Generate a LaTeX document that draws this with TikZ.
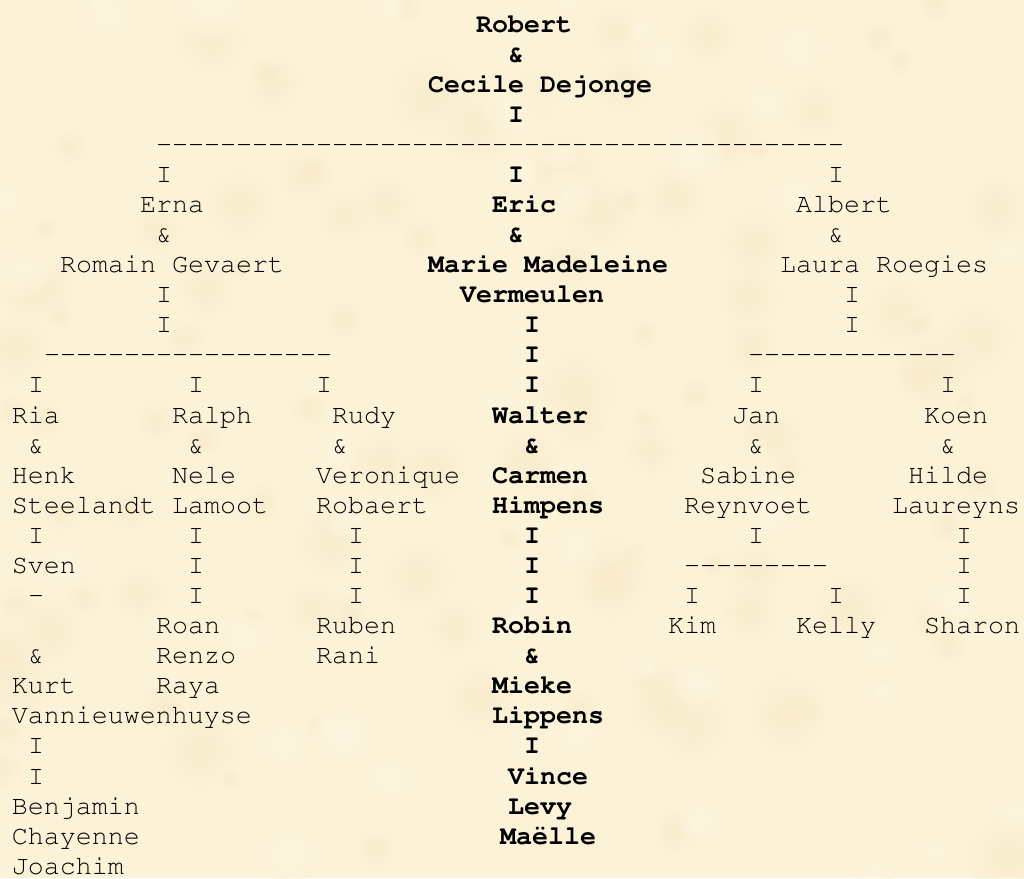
\documentclass[tikz,border=0pt]{standalone}
\usepackage[T1]{fontenc}
\renewcommand{\ttdefault}{pcr}
\definecolor{parch}{RGB}{252,242,215}
\definecolor{blotdark}{RGB}{245,229,192}
\definecolor{blotlight}{RGB}{255,249,232}
\tikzset{
  txt/.style={anchor=base west, inner sep=0pt, outer sep=0pt, font=\ttfamily\fontsize{20}{24}\selectfont, text=black},
  btxt/.style={txt, font=\ttfamily\bfseries\fontsize{20}{24}\selectfont}
}
\newcommand\Tn[4]{\node[txt] (#1) at ({12+16*#2},{32+30.08*#3}) {#4};}
\newcommand\Tb[4]{\node[btxt] (#1) at ({12+16*#2},{32+30.08*#3}) {#4};}
\newcommand\dashrun[1]{\foreach \k in {1,...,#1}{-{}}}
\begin{document}
\begin{tikzpicture}[x=0.75pt,y=-0.75pt]
\useasboundingbox (0,0) rectangle (1024,878);
\fill[parch] (0,0) rectangle (1024,878);
\begin{scope}
\clip (0,0) rectangle (1024,878);
\pgfmathsetseed{11}
\foreach \i in {1,...,110}{
  \pgfmathsetmacro\xx{rnd*1024}
  \pgfmathsetmacro\yy{rnd*878}
  \pgfmathsetmacro\rr{12+rnd*30}
  \shade[inner color=blotdark, outer color=parch, opacity=0.45] (\xx,\yy) circle[radius=\rr];
}
\foreach \i in {1,...,40}{
  \pgfmathsetmacro\xx{rnd*1024}
  \pgfmathsetmacro\yy{rnd*878}
  \pgfmathsetmacro\rr{10+rnd*22}
  \shade[inner color=blotlight, outer color=parch, opacity=0.5] (\xx,\yy) circle[radius=\rr];
}
\end{scope}
% row 0-4
\Tb{robert}{29}{0}{Robert}
\Tb{amp1}{31}{1}{\&}
\Tb{cecile}{26}{2}{Cecile Dejonge}
\Tb{i3}{31}{3}{I}
\Tn{d4}{9}{4}{\dashrun{43}}
% row 5
\Tn{i5a}{9}{5}{I}
\Tb{i5b}{31}{5}{I}
\Tn{i5c}{51}{5}{I}
% row 6
\Tn{erna}{8}{6}{Erna}
\Tb{eric}{30}{6}{Eric}
\Tn{albert}{49}{6}{Albert}
% row 7
\Tn{a7a}{9}{7}{\&}
\Tb{a7b}{31}{7}{\&}
\Tn{a7c}{51}{7}{\&}
% row 8
\Tn{romain}{3}{8}{Romain Gevaert}
\Tb{marie}{26}{8}{Marie Madeleine}
\Tn{laura}{48}{8}{Laura Roegies}
% row 9
\Tn{i9a}{9}{9}{I}
\Tb{vermeulen}{28}{9}{Vermeulen}
\Tn{i9c}{52}{9}{I}
% row 10
\Tn{i10a}{9}{10}{I}
\Tb{i10b}{32}{10}{I}
\Tn{i10c}{52}{10}{I}
% row 11
\Tn{d11a}{2}{11}{\dashrun{18}}
\Tb{i11b}{32}{11}{I}
\Tn{d11c}{46}{11}{\dashrun{13}}
% row 12
\Tn{i12a}{1}{12}{I}
\Tn{i12b}{11}{12}{I}
\Tn{i12c}{19}{12}{I}
\Tb{i12d}{32}{12}{I}
\Tn{i12e}{46}{12}{I}
\Tn{i12f}{58}{12}{I}
% row 13
\Tn{ria}{0}{13}{Ria}
\Tn{ralph}{10}{13}{Ralph}
\Tn{rudy}{20}{13}{Rudy}
\Tb{walter}{30}{13}{Walter}
\Tn{jan}{45}{13}{Jan}
\Tn{koen}{57}{13}{Koen}
% row 14
\Tn{a14a}{1}{14}{\&}
\Tn{a14b}{11}{14}{\&}
\Tn{a14c}{20}{14}{\&}
\Tb{a14d}{32}{14}{\&}
\Tn{a14e}{46}{14}{\&}
\Tn{a14f}{58}{14}{\&}
% row 15
\Tn{henk}{0}{15}{Henk}
\Tn{nele}{10}{15}{Nele}
\Tn{veronique}{19}{15}{Veronique}
\Tb{carmen}{30}{15}{Carmen}
\Tn{sabine}{43}{15}{Sabine}
\Tn{hilde}{56}{15}{Hilde}
% row 16
\Tn{steelandt}{0}{16}{Steelandt}
\Tn{lamoot}{10}{16}{Lamoot}
\Tn{robaert}{19}{16}{Robaert}
\Tb{himpens}{30}{16}{Himpens}
\Tn{reynvoet}{42}{16}{Reynvoet}
\Tn{laureyns}{55}{16}{Laureyns}
% row 17
\Tn{i17a}{1}{17}{I}
\Tn{i17b}{11}{17}{I}
\Tn{i17c}{21}{17}{I}
\Tb{i17d}{32}{17}{I}
\Tn{i17e}{46}{17}{I}
\Tn{i17f}{59}{17}{I}
% row 18
\Tn{sven}{0}{18}{Sven}
\Tn{i18b}{11}{18}{I}
\Tn{i18c}{21}{18}{I}
\Tb{i18d}{32}{18}{I}
\Tn{d18e}{42}{18}{\dashrun{9}}
\Tn{i18f}{59}{18}{I}
% row 19
\Tn{d19a}{1}{19}{-}
\Tn{i19b}{11}{19}{I}
\Tn{i19c}{21}{19}{I}
\Tb{i19d}{32}{19}{I}
\Tn{i19e}{42}{19}{I}
\Tn{i19f}{51}{19}{I}
\Tn{i19g}{59}{19}{I}
% row 20
\Tn{roan}{9}{20}{Roan}
\Tn{ruben}{19}{20}{Ruben}
\Tb{robin}{30}{20}{Robin}
\Tn{kim}{41}{20}{Kim}
\Tn{kelly}{49}{20}{Kelly}
\Tn{sharon}{57}{20}{Sharon}
% row 21
\Tn{a21a}{1}{21}{\&}
\Tn{renzo}{9}{21}{Renzo}
\Tn{rani}{19}{21}{Rani}
\Tb{a21d}{32}{21}{\&}
% row 22
\Tn{kurt}{0}{22}{Kurt}
\Tn{raya}{9}{22}{Raya}
\Tb{mieke}{30}{22}{Mieke}
% row 23
\Tn{vannieuwenhuyse}{0}{23}{Vannieuwenhuyse}
\Tb{lippens}{30}{23}{Lippens}
% row 24
\Tn{i24a}{1}{24}{I}
\Tb{i24b}{32}{24}{I}
% row 25
\Tn{i25a}{1}{25}{I}
\Tb{vince}{31}{25}{Vince}
% row 26
\Tn{benjamin}{0}{26}{Benjamin}
\Tb{levy}{31}{26}{Levy}
% row 27
\Tn{chayenne}{0}{27}{Chayenne}
\Tb{maelle}{30.5}{27}{Ma\"elle}
% row 28
\Tn{joachim}{0}{28}{Joachim}
\end{tikzpicture}
\end{document}
